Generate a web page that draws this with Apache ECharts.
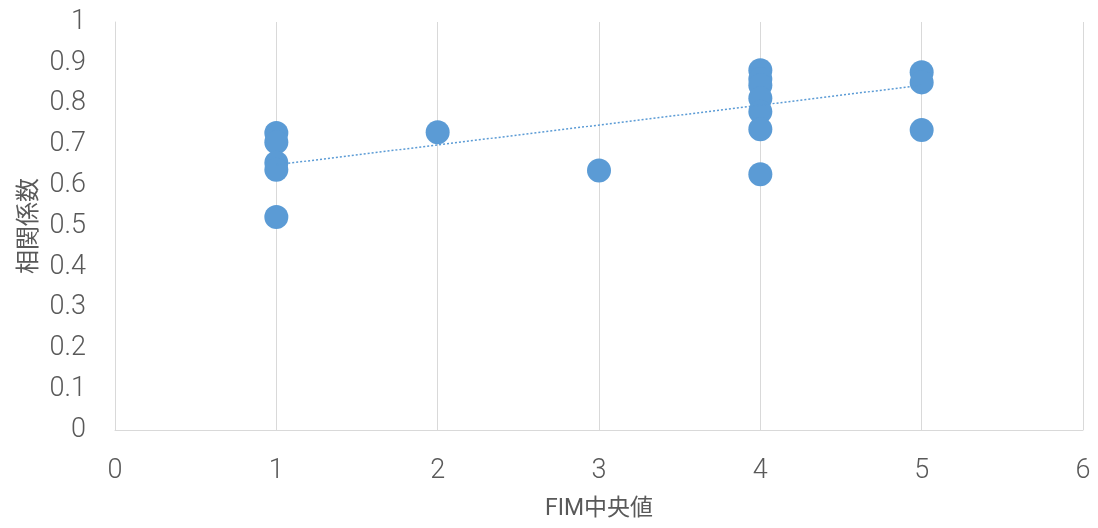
<!DOCTYPE html>
<html>
<head>
<meta charset="utf-8">
<script src="https://cdn.jsdelivr.net/npm/echarts@6/dist/echarts.min.js"></script>
<style>html,body{margin:0;padding:0;background:#fff}#c{width:1098px;height:528px}</style>
</head>
<body>
<div id="c"></div>
<script>
const xValues = [1, 1, 1, 1, 1, 2, 3, 4, 4, 4, 4, 4, 4, 4, 5, 5, 5];
const yValues = [0.728, 0.705, 0.655, 0.638, 0.522, 0.730, 0.636, 0.882, 0.860, 0.845, 0.813, 0.780, 0.737, 0.627, 0.877, 0.852, 0.735];
const trendX = [1, 5];
const trendY = [0.650, 0.845];
const xTitle = 'FIM中央値';
const yTitle = '相関係数';

const points = xValues.map((x, i) => [x, yValues[i]]);
const trend = trendX.map((x, i) => [x, trendY[i]]);
const labelFont = {color: '#595959', fontFamily: 'Roboto', fontWeight: 300, fontSize: 27};

const chart = echarts.init(document.getElementById('c'));
chart.setOption({
  animation: false,
  grid: {left: 115, right: 15, top: 22, bottom: 98},
  xAxis: {
    type: 'value', min: 0, max: 6, interval: 1,
    name: xTitle, nameLocation: 'middle', nameGap: 68,
    nameTextStyle: {color: '#595959', fontFamily: 'Roboto, "Noto Sans CJK JP"', fontSize: 23},
    axisLine: {show: true, lineStyle: {color: '#d9d9d9'}},
    axisTick: {show: false},
    splitLine: {show: true, lineStyle: {color: '#d9d9d9'}},
    axisLabel: Object.assign({margin: 28}, labelFont)
  },
  yAxis: {
    type: 'value', min: 0, max: 1, interval: 0.1,
    name: yTitle, nameLocation: 'middle', nameGap: 72, nameRotate: 90,
    nameTextStyle: {color: '#595959', fontFamily: '"Noto Sans CJK JP"', fontSize: 24},
    axisLine: {show: true, lineStyle: {color: '#d9d9d9'}},
    axisTick: {show: false},
    splitLine: {show: false},
    axisLabel: Object.assign({margin: 29, formatter: v => String(+v.toFixed(1))}, labelFont)
  },
  series: [
    {
      type: 'line', data: trend, symbol: 'none', z: 3,
      lineStyle: {color: '#5B9BD5', width: 1.5, type: [2, 2]}
    },
    {
      type: 'scatter', data: points, symbol: 'circle', symbolSize: 24, z: 2,
      itemStyle: {color: '#5B9BD5', opacity: 1}
    }
  ]
});
</script>
</body>
</html>
